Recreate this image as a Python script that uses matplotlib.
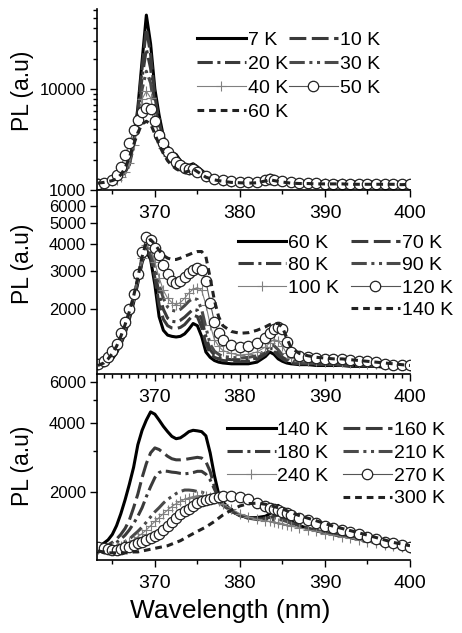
import matplotlib.pyplot as plt
from matplotlib.lines import Line2D
from matplotlib.ticker import FixedLocator, NullFormatter, NullLocator, MultipleLocator

plt.rcParams['font.family'] = ['Liberation Sans', 'DejaVu Sans']

# ---- data (PL intensity, a.u.) ----
wl1 = [363.3, 364, 365, 365.5, 366, 366.5, 367, 367.5, 368, 368.5,
       369, 369.5, 370, 370.5, 371, 371.5, 372, 372.5, 373, 373.5,
       374, 374.5, 375, 376, 377, 378, 379, 380, 381, 382,
       383, 383.5, 384, 385, 386, 387, 388, 389, 390, 391,
       392, 393, 394, 395, 396, 397, 398, 399, 400]

p1_7k = [1200, 1210, 1250, 1300, 1400, 1550, 1900, 3000, 6500, 19000,
         54000, 28000, 10000, 5500, 3400, 2700, 2350, 2250, 1950, 1800,
         1750, 1820, 1700, 1450, 1330, 1280, 1250, 1230, 1220, 1240,
         1330, 1400, 1350, 1260, 1230, 1220, 1210, 1210, 1210, 1200,
         1210, 1200, 1200, 1200, 1200, 1190, 1200, 1190, 1200]
p1_10k = [1200, 1210, 1250, 1290, 1380, 1520, 1850, 2900, 6000, 16000,
          40000, 22000, 8500, 4800, 3100, 2550, 2250, 2150, 1900, 1760,
          1700, 1760, 1660, 1420, 1310, 1260, 1230, 1220, 1210, 1230,
          1310, 1380, 1330, 1250, 1220, 1210, 1200, 1200, 1200, 1190,
          1200, 1190, 1190, 1190, 1190, 1180, 1190, 1180, 1190]
p1_20k = [1190, 1200, 1240, 1280, 1370, 1500, 1800, 2800, 5500, 13000,
          25000, 16000, 7000, 4300, 2900, 2400, 2150, 2050, 1850, 1720,
          1660, 1720, 1620, 1400, 1300, 1250, 1220, 1210, 1200, 1220,
          1290, 1360, 1310, 1240, 1210, 1200, 1190, 1190, 1190, 1180,
          1190, 1180, 1180, 1180, 1180, 1170, 1180, 1170, 1180]
p1_30k = [1180, 1190, 1230, 1270, 1360, 1480, 1780, 2700, 5000, 10000,
          15000, 11500, 6000, 3900, 2700, 2250, 2050, 1950, 1800, 1680,
          1620, 1680, 1580, 1380, 1290, 1240, 1210, 1200, 1190, 1210,
          1270, 1340, 1290, 1230, 1200, 1190, 1180, 1180, 1180, 1170,
          1180, 1170, 1170, 1170, 1170, 1160, 1170, 1160, 1170]
p1_40k = [1170, 1180, 1220, 1260, 1350, 1500, 1850, 2800, 4800, 8000,
          9500, 8200, 5200, 3500, 2600, 2150, 1950, 1850, 1720, 1620,
          1580, 1640, 1550, 1360, 1280, 1230, 1200, 1190, 1180, 1200,
          1260, 1320, 1280, 1220, 1190, 1180, 1170, 1170, 1170, 1160,
          1170, 1160, 1160, 1160, 1160, 1150, 1160, 1150, 1160]
p1_50k = [1150, 1180, 1250, 1400, 1700, 2200, 2900, 3900, 4900, 5900,
          6500, 6300, 4800, 3500, 2900, 2400, 2100, 1900, 1750, 1650,
          1600, 1620, 1520, 1380, 1300, 1250, 1220, 1200, 1190, 1210,
          1260, 1300, 1270, 1220, 1190, 1180, 1170, 1170, 1160, 1160,
          1160, 1150, 1150, 1150, 1150, 1150, 1150, 1140, 1150]
p1_60k = [1170, 1190, 1240, 1290, 1420, 1650, 2100, 2800, 3700, 4500,
          4800, 4500, 3600, 2800, 2300, 1950, 1750, 1620, 1540, 1500,
          1540, 1620, 1520, 1340, 1260, 1220, 1190, 1180, 1170, 1180,
          1230, 1270, 1240, 1200, 1170, 1160, 1160, 1150, 1150, 1150,
          1150, 1140, 1140, 1140, 1140, 1140, 1140, 1130, 1140]

wl23 = [363.3, 364, 364.5, 365, 365.5, 366, 366.5, 367, 367.5, 368,
        368.5, 369, 369.5, 370, 370.5, 371, 371.5, 372, 372.5, 373,
        373.5, 374, 374.5, 375, 375.5, 376, 376.5, 377, 377.5, 378,
        379, 380, 381, 382, 383, 383.5, 384, 384.5, 385, 385.5,
        386, 387, 388, 389, 390, 391, 392, 393, 394, 395,
        396, 397, 398, 399, 400]

p2_60k = [1080, 1100, 1130, 1180, 1260, 1380, 1550, 1800, 2150, 2650,
          3300, 3700, 3400, 2600, 1850, 1600, 1520, 1500, 1490, 1500,
          1540, 1620, 1720, 1680, 1500, 1270, 1200, 1160, 1140, 1130,
          1120, 1120, 1120, 1140, 1210, 1270, 1240, 1180, 1150, 1130,
          1120, 1110, 1110, 1100, 1100, 1100, 1100, 1090, 1090, 1090,
          1090, 1080, 1080, 1080, 1080]
p2_70k = [1090, 1110, 1140, 1200, 1280, 1400, 1580, 1830, 2200, 2700,
          3350, 3800, 3500, 2800, 2100, 1800, 1680, 1640, 1630, 1650,
          1700, 1790, 1880, 1850, 1650, 1380, 1250, 1200, 1180, 1160,
          1150, 1150, 1150, 1170, 1240, 1300, 1280, 1220, 1180, 1150,
          1130, 1120, 1120, 1110, 1110, 1110, 1100, 1100, 1100, 1100,
          1090, 1090, 1090, 1080, 1080]
p2_80k = [1090, 1120, 1150, 1210, 1290, 1420, 1600, 1860, 2230, 2750,
          3400, 3850, 3600, 3000, 2350, 2000, 1820, 1760, 1750, 1780,
          1840, 1920, 2000, 1980, 1800, 1500, 1300, 1230, 1200, 1180,
          1170, 1170, 1170, 1190, 1260, 1320, 1310, 1250, 1200, 1170,
          1150, 1130, 1120, 1120, 1110, 1110, 1110, 1100, 1100, 1100,
          1100, 1090, 1090, 1090, 1090]
p2_90k = [1100, 1130, 1160, 1220, 1300, 1440, 1630, 1890, 2260, 2780,
          3430, 3900, 3700, 3150, 2600, 2250, 2050, 1980, 1960, 2000,
          2080, 2180, 2250, 2220, 2000, 1650, 1380, 1280, 1240, 1210,
          1200, 1190, 1200, 1220, 1290, 1360, 1360, 1300, 1230, 1190,
          1160, 1140, 1130, 1130, 1120, 1120, 1120, 1110, 1110, 1110,
          1100, 1100, 1100, 1090, 1090]
p2_100k = [1110, 1140, 1190, 1260, 1350, 1500, 1700, 1950, 2300, 2800,
           3450, 3950, 3800, 3300, 2800, 2450, 2250, 2150, 2100, 2150,
           2250, 2380, 2480, 2520, 2450, 2100, 1700, 1450, 1350, 1290,
           1250, 1230, 1240, 1270, 1340, 1400, 1450, 1430, 1350, 1250,
           1190, 1160, 1150, 1150, 1140, 1140, 1140, 1130, 1130, 1120,
           1120, 1110, 1100, 1100, 1090]
p2_120k = [1120, 1150, 1210, 1290, 1380, 1560, 1750, 2000, 2350, 2900,
           3700, 4300, 4200, 3850, 3550, 3200, 2900, 2700, 2650, 2700,
           2820, 2950, 3050, 3100, 3050, 2700, 2150, 1750, 1550, 1450,
           1370, 1340, 1350, 1400, 1480, 1550, 1620, 1660, 1620, 1420,
           1270, 1220, 1200, 1190, 1180, 1180, 1180, 1170, 1160, 1150,
           1140, 1120, 1110, 1100, 1100]
p2_140k = [1100, 1130, 1180, 1250, 1350, 1500, 1700, 1950, 2300, 2800,
           3500, 4100, 4200, 4000, 3750, 3550, 3450, 3400, 3400, 3450,
           3520, 3580, 3650, 3700, 3700, 3500, 2800, 2200, 1850, 1680,
           1580, 1550, 1560, 1600, 1660, 1700, 1720, 1720, 1650, 1480,
           1330, 1250, 1220, 1200, 1190, 1180, 1180, 1170, 1160, 1150,
           1140, 1130, 1120, 1110, 1100]

p3_140k = [1150, 1190, 1230, 1300, 1420, 1600, 1840, 2150, 2550, 3200,
           3700, 4100, 4450, 4350, 4100, 3850, 3650, 3480, 3400, 3430,
           3530, 3650, 3700, 3680, 3650, 3500, 2950, 2350, 1950, 1800,
           1650, 1570, 1540, 1540, 1560, 1600, 1680, 1740, 1650, 1550,
           1480, 1420, 1380, 1350, 1320, 1300, 1280, 1260, 1240, 1220,
           1200, 1180, 1160, 1150, 1140]
p3_160k = [1130, 1150, 1170, 1200, 1240, 1300, 1380, 1500, 1700, 1950,
           2300, 2650, 2950, 3100, 3050, 2950, 2850, 2780, 2750, 2750,
           2760, 2780, 2800, 2820, 2800, 2700, 2450, 2100, 1850, 1750,
           1640, 1570, 1540, 1530, 1530, 1540, 1560, 1580, 1550, 1500,
           1460, 1420, 1380, 1350, 1320, 1300, 1280, 1260, 1240, 1220,
           1200, 1180, 1160, 1150, 1140]
p3_180k = [1120, 1130, 1150, 1170, 1200, 1240, 1290, 1360, 1450, 1560,
           1700, 1900, 2100, 2300, 2420, 2460, 2450, 2430, 2420, 2400,
           2390, 2400, 2420, 2450, 2450, 2380, 2250, 2050, 1880, 1760,
           1640, 1570, 1530, 1520, 1520, 1520, 1530, 1540, 1520, 1490,
           1460, 1420, 1380, 1350, 1320, 1300, 1280, 1260, 1240, 1220,
           1200, 1180, 1160, 1150, 1140]
p3_210k = [1110, 1120, 1130, 1140, 1160, 1180, 1210, 1240, 1290, 1340,
           1400, 1470, 1550, 1630, 1700, 1780, 1850, 1900, 1960, 2000,
           2030, 2030, 2020, 2000, 1990, 1950, 1900, 1850, 1800, 1740,
           1640, 1570, 1530, 1510, 1500, 1500, 1510, 1510, 1500, 1480,
           1450, 1410, 1380, 1350, 1320, 1300, 1280, 1260, 1240, 1220,
           1200, 1180, 1160, 1150, 1130]
p3_240k = [1120, 1120, 1130, 1140, 1150, 1160, 1180, 1200, 1230, 1270,
           1310, 1360, 1420, 1480, 1540, 1600, 1660, 1720, 1770, 1810,
           1850, 1880, 1900, 1920, 1920, 1910, 1890, 1860, 1820, 1770,
           1680, 1600, 1550, 1510, 1490, 1480, 1470, 1460, 1450, 1430,
           1410, 1390, 1360, 1340, 1310, 1290, 1270, 1250, 1230, 1210,
           1190, 1170, 1160, 1140, 1130]
p3_270k = [1140, 1130, 1120, 1110, 1110, 1120, 1140, 1150, 1170, 1190,
           1210, 1230, 1260, 1280, 1310, 1360, 1410, 1470, 1540, 1600,
           1640, 1680, 1730, 1780, 1810, 1840, 1860, 1880, 1900, 1910,
           1920, 1900, 1850, 1790, 1730, 1700, 1680, 1660, 1630, 1610,
           1580, 1540, 1500, 1460, 1420, 1390, 1360, 1330, 1300, 1270,
           1240, 1210, 1190, 1170, 1150]
p3_300k = [1100, 1090, 1080, 1080, 1080, 1080, 1080, 1080, 1090, 1090,
           1100, 1110, 1120, 1130, 1140, 1150, 1160, 1180, 1200, 1220,
           1250, 1280, 1310, 1340, 1370, 1400, 1440, 1480, 1530, 1580,
           1660, 1730, 1770, 1780, 1760, 1740, 1720, 1700, 1680, 1650,
           1620, 1570, 1530, 1490, 1450, 1410, 1380, 1350, 1320, 1290,
           1260, 1230, 1200, 1180, 1160]

labels1 = ['7 K', '10 K', '20 K', '30 K', '40 K', '50 K', '60 K']
labels2 = ['60 K', '70 K', '80 K', '90 K', '100 K', '120 K', '140 K']
labels3 = ['140 K', '160 K', '180 K', '210 K', '240 K', '270 K', '300 K']

# same line style sequence in every panel
styles = [
    dict(color='black', lw=2.2, ls='-'),
    dict(color='#3a3a3a', lw=2.2, ls=(0, (5.5, 1.8))),
    dict(color='#3a3a3a', lw=2.2, ls=(0, (5, 1.5, 1, 1.5))),
    dict(color='#4a4a4a', lw=2.2, ls=(0, (5, 1.5, 1, 1.5, 1, 1.5))),
    dict(color='#808080', lw=0.8, ls='-', marker='+', ms=7, mew=0.8),
    dict(color='#555555', lw=0.8, ls='-', marker='o', ms=7.5,
         mfc='white', mec='#222222', mew=0.9),
    dict(color='#222222', lw=2.2, ls=(0, (2.2, 1.6))),
]


def draw(ax, wl, series, labels):
    lines = []
    for vals, lab, st in zip(series, labels, styles):
        ln, = ax.plot(wl, vals, label=lab, **st)
        lines.append(ln)
    ax.set_yscale('log')
    ax.set_xlim(363.2, 400)
    ax.set_xticks([370, 380, 390, 400])
    ax.spines['top'].set_visible(False)
    ax.spines['right'].set_visible(False)
    ax.spines['left'].set_linewidth(1.2)
    ax.spines['bottom'].set_linewidth(1.2)
    ax.tick_params(which='both', direction='out', width=1)
    ax.tick_params(which='major', length=5)
    ax.tick_params(which='minor', length=3)
    ax.tick_params(axis='x', labelsize=14, pad=6)
    ax.tick_params(axis='y', labelsize=12, pad=3)
    ax.yaxis.set_minor_formatter(NullFormatter())
    ax.set_ylabel('PL (a.u)', fontsize=16.5)
    ax.patch.set_alpha(0)
    return lines


fig = plt.figure(figsize=(4.62, 6.33), dpi=100)
ax1 = fig.add_axes([0.2100, 0.6998, 0.6775, 0.2859])
ax2 = fig.add_axes([0.2100, 0.4092, 0.6775, 0.2891])
ax3 = fig.add_axes([0.2100, 0.1153, 0.6775, 0.2923])

l1 = draw(ax1, wl1, [p1_7k, p1_10k, p1_20k, p1_30k, p1_40k, p1_50k, p1_60k], labels1)
l2 = draw(ax2, wl23, [p2_60k, p2_70k, p2_80k, p2_90k, p2_100k, p2_120k, p2_140k], labels2)
l3 = draw(ax3, wl23, [p3_140k, p3_160k, p3_180k, p3_210k, p3_240k, p3_270k, p3_300k], labels3)

ax1.set_ylim(1000, 62000)
ax1.set_yticks([1000, 10000])
ax1.set_yticklabels(['1000', '10000'])
ax1.xaxis.set_minor_locator(MultipleLocator(5))

ax2.set_ylim(1005, 7050)
ax2.set_yticks([2000, 3000, 4000, 5000, 6000])
ax2.set_yticklabels(['2000', '3000', '4000', '5000', '6000'])
ax2.yaxis.set_minor_locator(NullLocator())
ax2.xaxis.set_minor_locator(MultipleLocator(1))

ax3.set_ylim(1005, 6450)
ax3.set_yticks([2000, 4000, 6000])
ax3.set_yticklabels(['2000', '4000', '6000'])
ax3.yaxis.set_minor_locator(FixedLocator([3000, 5000]))
ax3.xaxis.set_minor_locator(MultipleLocator(5))

ax1.yaxis.set_label_coords(-0.2, 0.55)
ax2.yaxis.set_label_coords(-0.2, 0.6)
ax3.yaxis.set_label_coords(-0.2, 0.51)

ax3.set_xlabel('Wavelength (nm)', fontsize=19)
ax3.xaxis.set_label_coords(0.425, -0.21)

blank = Line2D([], [], linestyle='none')
leg_kw = dict(loc='upper left', frameon=False, fontsize=14, ncol=2,
              handlelength=2.5, handletextpad=0.1,
              borderpad=0, borderaxespad=0, numpoints=1)

h1 = [l1[0], l1[2], l1[4], l1[6], l1[1], l1[3], l1[5]]
ax1.legend(h1, [h.get_label() for h in h1], bbox_to_anchor=(0.32, 0.875),
           columnspacing=0.05, labelspacing=0.32, **leg_kw)

h2 = [l2[0], l2[2], l2[4], blank, l2[1], l2[3], l2[5], l2[6]]
ax2.legend(h2, [h.get_label() if h is not blank else '' for h in h2],
           bbox_to_anchor=(0.45, 0.765), columnspacing=0.6,
           labelspacing=0.25, **leg_kw)

h3 = [l3[0], l3[2], l3[4], blank, l3[1], l3[3], l3[5], l3[6]]
ax3.legend(h3, [h.get_label() if h is not blank else '' for h in h3],
           bbox_to_anchor=(0.415, 0.75), columnspacing=0.75,
           labelspacing=0.27, **leg_kw)

fig.savefig('out.png', dpi=100)
